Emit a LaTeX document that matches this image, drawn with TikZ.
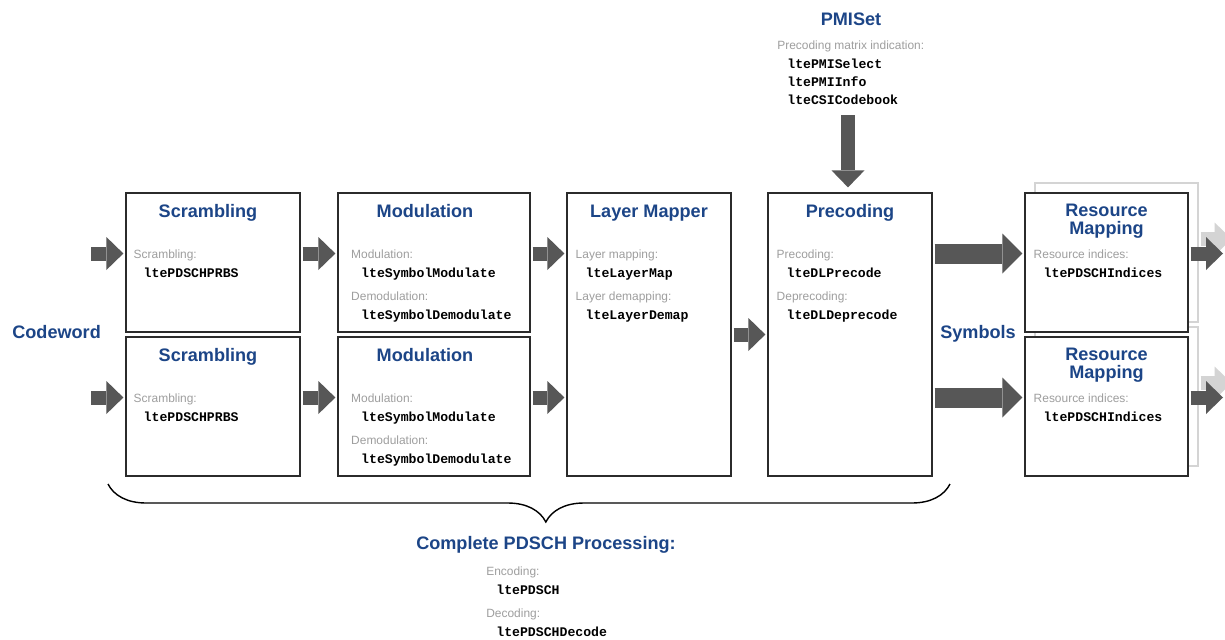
\documentclass[tikz,border=0pt]{standalone}
\usepackage{fontspec}
\setmainfont{Liberation Sans}
\newfontfamily\monofont{Liberation Mono}
\usetikzlibrary{arrows.meta,calc,decorations.pathreplacing}
\definecolor{tblue}{HTML}{1C4587}
\definecolor{labgray}{HTML}{9E9E9E}
\definecolor{boxline}{HTML}{2B2B2B}
\definecolor{arrgray}{HTML}{575757}
\definecolor{ghostgray}{HTML}{D4D4D4}
\newcommand{\glab}[1]{{\color{labgray}#1}}
\newcommand{\mfn}[1]{{\monofont\bfseries\fontsize{7.5}{10.2}\selectfont#1}}
\tikzset{
  blk/.style={draw=boxline,line width=0.7pt,fill=white,minimum width=3.28cm,minimum height=2.78cm,inner sep=0pt},
  tall/.style={blk,minimum height=5.66cm},
  ghost/.style={blk,draw=ghostgray},
  ttl/.style={font=\fontsize{10.3}{10.2}\selectfont\bfseries,text=tblue,anchor=base,inner sep=0pt},
  body/.style={align=left,anchor=north west,inner sep=0pt,font=\fontsize{6.8}{10.2}\selectfont},
  flow/.style={-{Triangle[length=0.34cm,width=0.66cm,line width=0pt]},line width=0.28cm,draw=arrgray,shorten <=0.04cm,shorten >=0.04cm},
  wide/.style={flow,-{Triangle[length=0.4cm,width=0.8cm,line width=0pt]},line width=0.4cm},
}
\begin{document}
\begin{tikzpicture}
  \path[use as bounding box,fill=white] (0,0) rectangle (24.5,-12.78);
  \clip (0,0) rectangle (24.5,-12.78);
  % boxes
  \node[blk,minimum width=3.48cm] (scr1) at (4.26,-5.25) {};
  \node[blk,minimum width=3.48cm] (scr2) at (4.26,-8.13) {};
  \node[blk,minimum width=3.84cm] (mod1) at (8.68,-5.25) {};
  \node[blk,minimum width=3.84cm] (mod2) at (8.68,-8.13) {};
  \node[tall] (lay) at (12.98,-6.69) {};
  \node[tall] (prec) at (17.00,-6.69) {};
  \node[ghost,minimum width=3.26cm] (res1bg) at (22.33,-5.05) {};
  \node[ghost,minimum width=3.26cm] (res2bg) at (22.33,-7.93) {};
  \draw[flow,draw=ghostgray] ([yshift=0.27cm]res1bg.east) -- +(0.7,0);
  \draw[flow,draw=ghostgray] ([yshift=0.27cm]res2bg.east) -- +(0.7,0);
  \node[blk,minimum width=3.26cm] (res1) at (22.13,-5.25) {};
  \node[blk,minimum width=3.26cm] (res2) at (22.13,-8.13) {};
  % titles
  \node[ttl] (scr1t) at ($(scr1.north)+(-0.1,-0.5)$) {Scrambling};
  \node[ttl] (scr2t) at ($(scr2.north)+(-0.1,-0.5)$) {Scrambling};
  \node[ttl] (mod1t) at ($(mod1.north)+(-0.18,-0.5)$) {Modulation};
  \node[ttl] (mod2t) at ($(mod2.north)+(-0.18,-0.5)$) {Modulation};
  \node[ttl] (layt) at ($(lay.north)+(0,-0.5)$) {Layer Mapper};
  \node[ttl] (prect) at ($(prec.north)+(0,-0.5)$) {Precoding};
  \node[ttl,anchor=north,align=center] (res1t) at ($(res1.north)+(0,-0.23)$) {Resource\\Mapping};
  \node[ttl,anchor=north,align=center] (res2t) at ($(res2.north)+(0,-0.23)$) {Resource\\Mapping};
  % box texts
  \node[body] (scr1b) at ($(scr1.north west)+(0.16,-1.15)$) {\glab{Scrambling:}\\[0.5pt]\hspace*{0.2cm}\mfn{ltePDSCHPRBS}};
  \node[body] (scr2b) at ($(scr2.north west)+(0.16,-1.15)$) {\glab{Scrambling:}\\[0.5pt]\hspace*{0.2cm}\mfn{ltePDSCHPRBS}};
  \node[body] (mod1b) at ($(mod1.north west)+(0.27,-1.15)$) {\glab{Modulation:}\\[0.5pt]\hspace*{0.2cm}\mfn{lteSymbolModulate}\\[3pt]
    \glab{Demodulation:}\\[0.5pt]\hspace*{0.2cm}\mfn{lteSymbolDemodulate}};
  \node[body] (mod2b) at ($(mod2.north west)+(0.27,-1.15)$) {\glab{Modulation:}\\[0.5pt]\hspace*{0.2cm}\mfn{lteSymbolModulate}\\[3pt]
    \glab{Demodulation:}\\[0.5pt]\hspace*{0.2cm}\mfn{lteSymbolDemodulate}};
  \node[body] (layb) at ($(lay.north west)+(0.18,-1.15)$) {\glab{Layer mapping:}\\[0.5pt]\hspace*{0.2cm}\mfn{lteLayerMap}\\[3pt]
    \glab{Layer demapping:}\\[0.5pt]\hspace*{0.2cm}\mfn{lteLayerDemap}};
  \node[body] (precb) at ($(prec.north west)+(0.18,-1.15)$) {\glab{Precoding:}\\[0.5pt]\hspace*{0.2cm}\mfn{lteDLPrecode}\\[3pt]
    \glab{Deprecoding:}\\[0.5pt]\hspace*{0.2cm}\mfn{lteDLDeprecode}};
  \node[body] (res1b) at ($(res1.north west)+(0.18,-1.15)$) {\glab{Resource indices:}\\[0.5pt]\hspace*{0.2cm}\mfn{ltePDSCHIndices}};
  \node[body] (res2b) at ($(res2.north west)+(0.18,-1.15)$) {\glab{Resource indices:}\\[0.5pt]\hspace*{0.2cm}\mfn{ltePDSCHIndices}};
  % side labels
  \node[ttl,anchor=base west] (cw) at (0.24,-6.77) {Codeword};
  \node[ttl,anchor=base west] (sym) at (18.80,-6.77) {Symbols};
  % PMISet
  \node[ttl] (pmit) at (17.02,-0.5) {PMISet};
  \node[body] (pmib) at (15.54,-0.8) {\glab{Precoding matrix indication:}\\[1pt]\hspace*{0.2cm}\mfn{ltePMISelect}\\
    \hspace*{0.2cm}\mfn{ltePMIInfo}\\\hspace*{0.2cm}\mfn{lteCSICodebook}};
  \coordinate (pmi) at (16.96,-2.26);
  \draw[flow,shorten >=0.1cm] (pmi) -- (pmi |- prec.north);
  % arrows
  \coordinate (in1) at (1.78,-5.07);
  \coordinate (in2) at (1.78,-7.95);
  \draw[flow] (in1) -- (in1 -| scr1.west);
  \draw[flow] (in2) -- (in2 -| scr2.west);
  \draw[flow] (in1 -| scr1.east) -- (in1 -| mod1.west);
  \draw[flow] (in2 -| scr2.east) -- (in2 -| mod2.west);
  \draw[flow] (in1 -| mod1.east) -- (in1 -| lay.west);
  \draw[flow] (in2 -| mod2.east) -- (in2 -| lay.west);
  \draw[flow] (lay.east) -- (prec.west);
  \draw[wide] (in1 -| prec.east) -- (in1 -| res1.west);
  \draw[wide] (in2 -| prec.east) -- (in2 -| res2.west);
  \coordinate (out1) at (24.5,-5.07);
  \coordinate (out2) at (24.5,-7.95);
  \draw[flow] (in1 -| res1.east) -- (out1);
  \draw[flow] (in2 -| res2.east) -- (out2);
  % brace
  \coordinate (brl) at (2.16,-9.68);
  \coordinate (brr) at (19.0,-9.68);
  \draw[line width=0.8pt,decorate,decoration={brace,amplitude=0.76cm,mirror,aspect=0.52}] (brl) -- (brr);
  \node[ttl] (cpt) at (10.92,-10.99) {Complete PDSCH Processing:};
  \node[body] (cpb) at (9.72,-11.33) {\glab{Encoding:}\\[0.5pt]\hspace*{0.2cm}\mfn{ltePDSCH}\\[3pt]
    \glab{Decoding:}\\[0.5pt]\hspace*{0.2cm}\mfn{ltePDSCHDecode}};
\end{tikzpicture}
\end{document}
